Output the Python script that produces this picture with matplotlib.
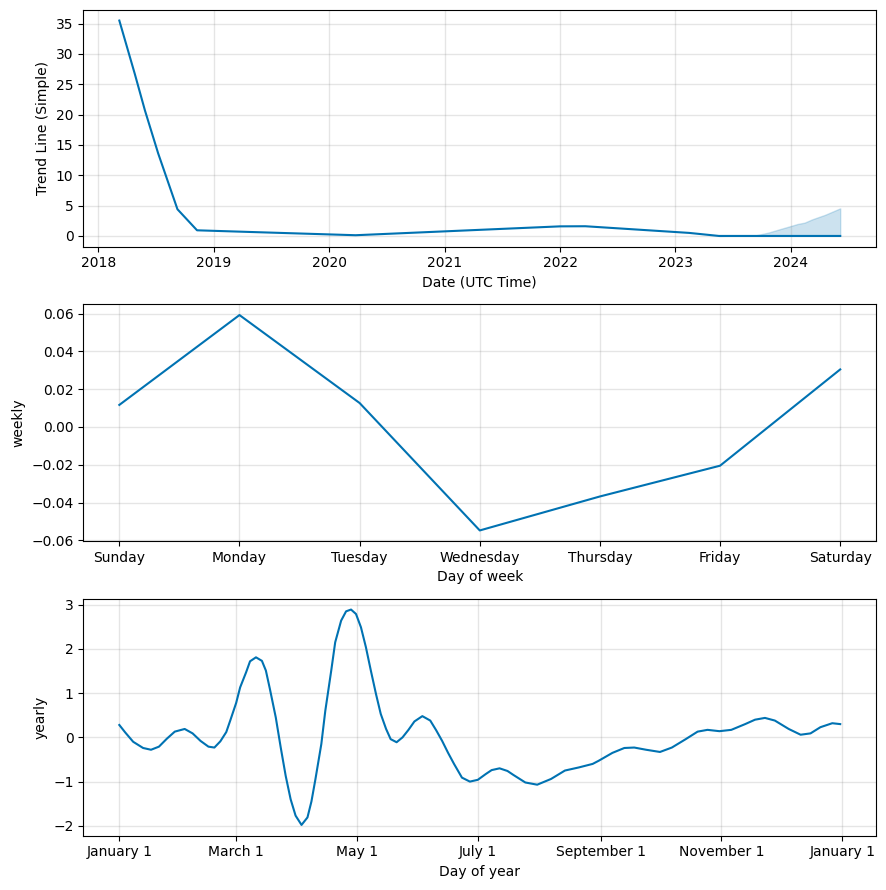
import numpy as np
import pandas as pd
import matplotlib
matplotlib.use("Agg")
import matplotlib.pyplot as plt
import matplotlib.dates as mdates

LINE = '#0072B2'

# trend component
trend_dates = ['2018-03-08', '2018-04-26', '2018-05-28', '2018-07-09', '2018-09-08',
               '2018-11-09', '2019-04-29', '2020-03-25', '2022-01-01', '2022-03-22',
               '2023-02-14', '2023-05-19', '2024-06-06']
trend_vals = [35.5, 26.7, 20.7, 13.6, 4.4, 0.93, 0.65, 0.12, 1.58, 1.6, 0.5, 0.0, 0.0]

# forecast uncertainty band of the trend
band_dates = ['2023-05-19', '2023-09-13', '2023-10-23', '2023-11-25', '2024-01-01',
              '2024-01-23', '2024-02-14', '2024-03-10', '2024-04-19', '2024-06-06']
band_upper = [0.0, 0.1, 0.56, 1.07, 1.63, 1.97, 2.19, 2.75, 3.48, 4.55]
band_lower = [0.0, 0.0, 0.0, 0.0, 0.0, 0.0, 0.0, 0.0, 0.0, 0.0]

# weekly seasonality
week_days = ['Sunday', 'Monday', 'Tuesday', 'Wednesday', 'Thursday', 'Friday', 'Saturday']
weekly_vals = [0.0117, 0.0593, 0.0127, -0.0548, -0.0368, -0.0205, 0.0305]

# yearly seasonality (days after Jan 1, value)
year_days = [0, 3, 7, 12, 16, 20, 24, 28, 33, 37, 41, 45, 48, 51, 54, 56, 59, 61, 64,
             66, 69, 72, 74, 76, 79, 81.5, 84, 86.5, 89, 92, 95, 97, 99, 102, 104, 107,
             109, 112, 114.5, 117, 119.5, 122, 124.5, 127, 129.6, 132, 134.7, 137, 140,
             143, 146, 149, 153, 157, 160, 163, 166, 169, 173, 177, 181, 185, 188, 192,
             196, 199, 205, 211, 218, 225, 232, 239, 242, 249, 255, 260, 266, 273, 279,
             286, 292, 297, 303, 309, 316, 321, 326, 331, 338, 344, 349, 354, 360, 364]
yearly_vals = [0.28, 0.11, -0.10, -0.24, -0.28, -0.21, -0.03, 0.13, 0.19, 0.09, -0.08,
               -0.21, -0.23, -0.09, 0.12, 0.38, 0.78, 1.13, 1.47, 1.72, 1.81, 1.73, 1.51,
               1.10, 0.45, -0.23, -0.87, -1.40, -1.77, -1.98, -1.81, -1.45, -0.95, -0.15,
               0.60, 1.51, 2.15, 2.64, 2.85, 2.89, 2.79, 2.49, 2.04, 1.51, 0.98, 0.53,
               0.19, -0.04, -0.11, 0.0, 0.17, 0.36, 0.48, 0.38, 0.16, -0.08, -0.35, -0.60,
               -0.91, -1.00, -0.96, -0.83, -0.74, -0.70, -0.76, -0.85, -1.02, -1.07, -0.94,
               -0.75, -0.68, -0.60, -0.53, -0.35, -0.24, -0.23, -0.28, -0.33, -0.23, -0.04,
               0.13, 0.17, 0.14, 0.17, 0.30, 0.40, 0.44, 0.38, 0.19, 0.06, 0.09, 0.23,
               0.32, 0.30]


def style(ax):
    ax.grid(True, which='major', c='gray', ls='-', lw=1, alpha=0.2)


fig, axes = plt.subplots(3, 1, figsize=(8.86, 8.9), dpi=100)
plt.subplots_adjust(left=0.094, right=0.989, top=0.989, bottom=0.061, hspace=0.243)

# trend
ax = axes[0]
ax.plot(pd.to_datetime(trend_dates), trend_vals, ls='-', c=LINE)
ax.fill_between(pd.to_datetime(band_dates), band_lower, band_upper, color=LINE, alpha=0.2)
ax.xaxis.set_major_locator(mdates.YearLocator())
ax.xaxis.set_major_formatter(mdates.DateFormatter('%Y'))
ax.set_xlabel('Date (UTC Time)')
ax.set_ylabel('Trend Line (Simple)')
style(ax)

# weekly
ax = axes[1]
ax.plot(range(len(week_days)), weekly_vals, ls='-', c=LINE)
ax.set_xticks(range(len(week_days)))
ax.set_xticklabels(week_days)
ax.set_xlabel('Day of week')
ax.set_ylabel('weekly')
style(ax)

# yearly
ax = axes[2]
ydates = pd.Timestamp('2017-01-01') + pd.to_timedelta(year_days, unit='D')
ax.plot(ydates, yearly_vals, ls='-', c=LINE)
ax.xaxis.set_major_locator(mdates.MonthLocator(bymonth=[1, 3, 5, 7, 9, 11], bymonthday=1))
ax.xaxis.set_major_formatter(plt.FuncFormatter(
    lambda x, pos: '{dt:%B} {dt.day}'.format(dt=mdates.num2date(x))))
ax.set_xlabel('Day of year')
ax.set_ylabel('yearly')
style(ax)

fig.savefig('out.png', dpi=100)
